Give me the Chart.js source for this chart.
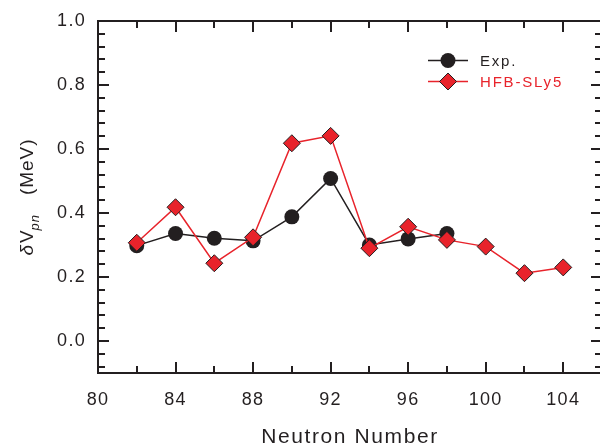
<!DOCTYPE html>
<html>
<head>
<meta charset="utf-8">
<script src="https://cdn.jsdelivr.net/npm/chart.js@4/dist/chart.umd.min.js"></script>
<style>
  html, body { margin: 0; padding: 0; background: #fff; overflow: hidden; width: 600px; height: 445px; }
  #wrap { width: 604px; height: 445px; }
</style>
</head>
<body>
<div id="wrap"><canvas id="c" width="604" height="445"></canvas></div>
<script>
// ---- data ----
const neutronNumbers = [82, 84, 86, 88, 90, 92, 94, 96, 98, 100, 102, 104];
const expValues = [0.298, 0.336, 0.321, 0.313, 0.388, 0.508, 0.300, 0.319, 0.336];
const hfbValues = [0.307, 0.418, 0.243, 0.324, 0.618, 0.641, 0.290, 0.357, 0.316, 0.295, 0.212, 0.230];
const xTickLabels = [80, 84, 88, 92, 96, 100, 104];
const yTickLabels = [0.0, 0.2, 0.4, 0.6, 0.8, 1.0];
const seriesNames = ['Exp.', 'HFB-SLy5'];

const INK = '#231f20';
const RED = '#e8232b';
const FONT = '"Liberation Sans", Arial, Helvetica, sans-serif';

function pts(xs, ys) { return ys.map((y, i) => ({ x: xs[i], y: y })); }

const framePlugin = {
  id: 'frame',
  beforeDraw(chart) {
    chart.ctx.letterSpacing = '1.3px';
  },
  afterDraw(chart) {
    const ctx = chart.ctx;
    const a = chart.chartArea;
    const xs = chart.scales.x, ys = chart.scales.y;
    ctx.save();
    ctx.strokeStyle = INK;
    ctx.lineWidth = 2;
    ctx.beginPath();
    ctx.rect(a.left, a.top, a.right - a.left, a.bottom - a.top);
    ctx.stroke();
    // x ticks (bottom & top, inward)
    for (let v = xs.min + 2; v < xs.max; v += 2) {
      const px = Math.round(xs.getPixelForValue(v));
      const major = xTickLabels.includes(v);
      const len = major ? 11 : 7;
      ctx.beginPath();
      ctx.moveTo(px, a.bottom); ctx.lineTo(px, a.bottom - len);
      ctx.moveTo(px, a.top); ctx.lineTo(px, a.top + len);
      ctx.stroke();
    }
    // y ticks (left & right, inward)
    for (let k = -2; k <= 24; k++) {
      const v = k * 0.04;
      if (v <= ys.min + 1e-9 || v >= ys.max - 1e-9) continue;
      const py = Math.round(ys.getPixelForValue(v));
      const major = k % 5 === 0;
      const len = major ? 11 : 7;
      ctx.beginPath();
      ctx.moveTo(a.left, py); ctx.lineTo(a.left + len, py);
      ctx.moveTo(a.right, py); ctx.lineTo(a.right - len, py);
      ctx.stroke();
    }
    // x title
    ctx.fillStyle = INK;
    ctx.letterSpacing = '1.6px';
    ctx.font = '21px ' + FONT;
    ctx.textAlign = 'center';
    ctx.textBaseline = 'alphabetic';
    ctx.fillText('Neutron Number', (a.left + a.right) / 2, 443);
    // y title with subscript
    ctx.save();
    ctx.translate(33, (a.top + a.bottom) / 2);
    ctx.rotate(-Math.PI / 2);
    ctx.letterSpacing = '1px';
    ctx.textAlign = 'left';
    const segs = [
      { t: '\u03B4', f: 'italic 19px ' + FONT, dy: 0, dx: 0 },
      { t: 'V', f: '19px ' + FONT, dy: 0, dx: 1 },
      { t: 'pn', f: 'italic 13px ' + FONT, dy: 6, dx: -1 },
      { t: '   (MeV)', f: '19px ' + FONT, dy: 0, dx: 0 }
    ];
    let total = 0;
    segs.forEach(s => { ctx.font = s.f; s.w = ctx.measureText(s.t).width; total += s.w + s.dx; });
    let cx = -total / 2;
    segs.forEach(s => {
      ctx.font = s.f;
      cx += s.dx;
      ctx.fillText(s.t, cx, s.dy);
      cx += s.w;
    });
    ctx.restore();
    // legend
    const items = [
      { y: 60.5, color: INK, style: 'circle', text: seriesNames[0], textColor: INK },
      { y: 81.5, color: RED, style: 'diamond', text: seriesNames[1], textColor: RED }
    ];
    items.forEach(it => {
      ctx.strokeStyle = it.color;
      ctx.lineWidth = 1.5;
      ctx.beginPath();
      ctx.moveTo(428, it.y); ctx.lineTo(468, it.y);
      ctx.stroke();
      ctx.lineWidth = 1;
      ctx.strokeStyle = INK;
      if (it.style === 'circle') {
        ctx.fillStyle = INK;
        ctx.beginPath(); ctx.arc(448, it.y, 7.5, 0, Math.PI * 2); ctx.fill();
      } else {
        ctx.fillStyle = RED;
        ctx.beginPath();
        ctx.moveTo(448 - 8.5, it.y); ctx.lineTo(448, it.y - 8.5);
        ctx.lineTo(448 + 8.5, it.y); ctx.lineTo(448, it.y + 8.5);
        ctx.closePath(); ctx.fill(); ctx.stroke();
      }
      ctx.fillStyle = it.textColor;
      ctx.font = '15px ' + FONT;
      ctx.letterSpacing = '1.8px';
      ctx.textAlign = 'left';
      ctx.textBaseline = 'middle';
      ctx.fillText(it.text, 480, it.y + 1);
    });
    ctx.restore();
  }
};

new Chart(document.getElementById('c'), {
  type: 'line',
  data: {
    datasets: [
      {
        label: seriesNames[1],
        data: pts(neutronNumbers, hfbValues),
        borderColor: RED, borderWidth: 1.5, backgroundColor: RED,
        pointStyle: 'rectRot', pointRadius: 8.5,
        pointBackgroundColor: RED, pointBorderColor: INK, pointBorderWidth: 1,
        tension: 0, order: 0
      },
      {
        label: seriesNames[0],
        data: pts(neutronNumbers, expValues),
        borderColor: INK, borderWidth: 1.5, backgroundColor: INK,
        pointStyle: 'circle', pointRadius: 7.5,
        pointBackgroundColor: INK, pointBorderColor: INK, pointBorderWidth: 0,
        tension: 0, order: 1
      }
    ]
  },
  options: {
    responsive: false,
    animation: false,
    devicePixelRatio: 1,
    layout: { autoPadding: false, padding: { top: 21, right: 2, left: 0, bottom: 0 } },
    plugins: { legend: { display: false }, tooltip: { enabled: false } },
    scales: {
      x: {
        type: 'linear', min: 80, max: 106,
        grid: { display: false, drawTicks: false },
        border: { display: false },
        afterBuildTicks: s => { s.ticks = xTickLabels.map(v => ({ value: v })); },
        afterFit: s => { s.height = 72; s.paddingLeft = 0; s.paddingRight = 0; },
        ticks: { color: INK, padding: 16, maxRotation: 0, autoSkip: false,
          font: { family: FONT, size: 18 }, callback: v => String(v) }
      },
      y: {
        type: 'linear', min: -0.1, max: 1.0,
        grid: { display: false, drawTicks: false },
        border: { display: false },
        afterBuildTicks: s => { s.ticks = yTickLabels.map(v => ({ value: v })); },
        afterFit: s => { s.width = 98; s.paddingTop = 0; s.paddingBottom = 0; },
        ticks: { color: INK, padding: 12, autoSkip: false,
          font: { family: FONT, size: 18 }, callback: v => Number(v).toFixed(1) }
      }
    }
  },
  plugins: [framePlugin]
});
</script>
</body>
</html>
